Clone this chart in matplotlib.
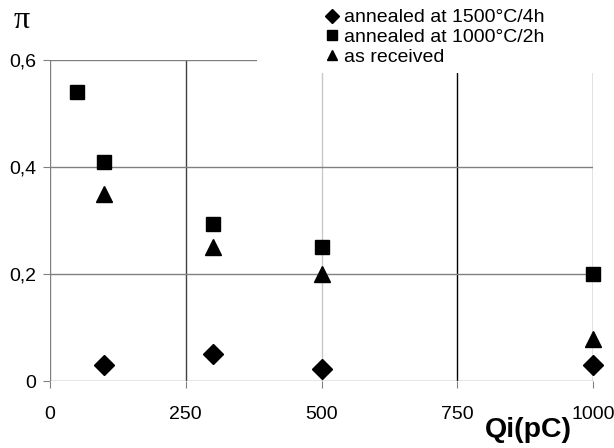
import matplotlib
matplotlib.use("Agg")
import matplotlib.pyplot as plt
from matplotlib.patches import Rectangle

# data
x_1500 = [100, 300, 500, 1000]
y_1500 = [0.03, 0.05, 0.022, 0.03]
x_1000 = [50, 100, 300, 500, 1000]
y_1000 = [0.54, 0.41, 0.293, 0.25, 0.20]
x_asr = [100, 300, 500, 1000]
y_asr = [0.35, 0.25, 0.20, 0.078]
xticks = [0, 250, 500, 750, 1000]
yticks = [0, 0.2, 0.4, 0.6]
yticklabels = ['0', '0,2', '0,4', '0,6']
labels = ['annealed at 1500°C/4h', 'annealed at 1000°C/2h', 'as received']

plt.rcParams['font.family'] = ['Liberation Sans', 'DejaVu Sans']

fig = plt.figure(figsize=(6.14, 4.48), dpi=100)
ax = fig.add_axes([50/614, 1 - 381/448, 543/614, 321/448])
ax.set_xlim(0, 1000)
ax.set_ylim(0, 0.6)

vcolors = ['#808080', '#404040', '#c8c8c8', '#000000', '#707070']
for xv, c in zip(xticks, vcolors):
    ax.axvline(xv, color=c, lw=1, zorder=1)
for yv in yticks:
    ax.axhline(yv, color='#808080', lw=1, zorder=1)

for s in ax.spines.values():
    s.set_visible(False)

ax.set_xticks(xticks)
ax.set_xticklabels([str(v) for v in xticks])
ax.set_yticks(yticks)
ax.set_yticklabels(yticklabels)
ax.tick_params(axis='both', direction='out', length=5, color='#808080', labelsize=14)
ax.tick_params(axis='x', pad=13)
ax.tick_params(axis='y', pad=5)

# white box behind legend
ax.add_patch(Rectangle((257/614, 1 - 73/448), 1, 1, transform=fig.transFigure,
                       facecolor='white', edgecolor='none', zorder=2, clip_on=False))

h1, = ax.plot(x_1500, y_1500, 'D', color='black', ms=10, clip_on=False, zorder=3, label=labels[0])
h2, = ax.plot(x_1000, y_1000, 's', color='black', ms=10, clip_on=False, zorder=3, label=labels[1])
h3, = ax.plot(x_asr, y_asr, '^', color='black', ms=11, clip_on=False, zorder=3, label=labels[2])

leg = fig.legend(handles=[h1, h2, h3], loc='upper left', bbox_to_anchor=(316/614, 1 + 1/448),
                 frameon=False, fontsize=14, handlelength=0.6, handletextpad=0.35,
                 labelspacing=0.12, borderpad=0, markerscale=0.7)

fig.text(22/614, 1 - 20/448, 'π', family=['Liberation Serif', 'DejaVu Serif'], fontsize=23,
         ha='center', va='center')
fig.text(528/614, 1 - 430/448, 'Qi(pC)', fontweight='bold', fontsize=20.5, ha='center', va='center')

fig.savefig('out.png', dpi=100)
